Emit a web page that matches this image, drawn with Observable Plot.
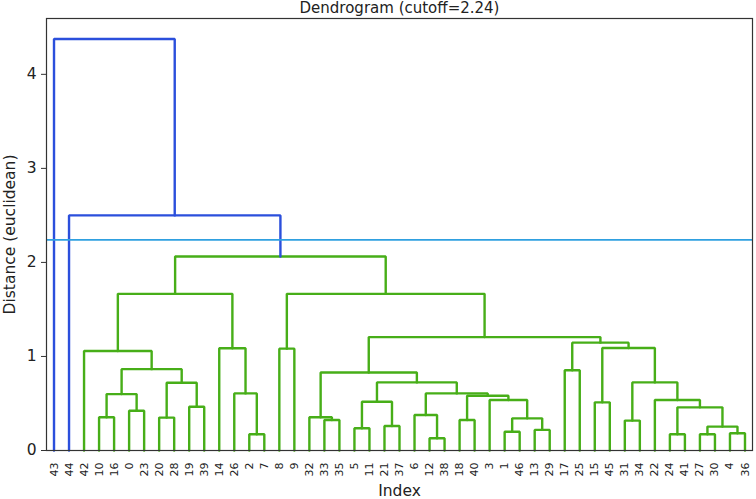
<!DOCTYPE html>
<html><head><meta charset="utf-8">
<script src="https://cdn.jsdelivr.net/npm/d3@7"></script>
<script src="https://cdn.jsdelivr.net/npm/@observablehq/plot@0.6"></script>
<style>body{margin:0;background:#fff}</style>
</head><body><div id="chart"></div>
<script>
const title = "Dendrogram (cutoff=2.24)";
const xLabel = "Index";
const yLabel = "Distance (euclidean)";
const cutoff = 2.24;
const yTicks = [0, 1, 2, 3, 4];
// Leaf order along x (tick labels)
const leafOrder = [43,44,42,10,16,0,23,20,28,19,39,14,26,2,7,8,9,32,33,35,5,11,21,37,6,12,38,18,40,3,1,46,13,29,17,25,15,45,31,34,22,24,41,27,30,4,36];
// Merges: [left, right, distance]; numbers = leaf ids, "cN" = result of merge N
const merges = [
  [10, 16, 0.353],      // c0
  [0, 23, 0.423],       // c1
  ["c0", "c1", 0.600],  // c2
  [20, 28, 0.350],      // c3
  [19, 39, 0.465],      // c4
  ["c3", "c4", 0.720],  // c5
  ["c2", "c5", 0.865],  // c6
  [42, "c6", 1.058],    // c7
  [2, 7, 0.173],        // c8
  [26, "c8", 0.607],    // c9
  [14, "c9", 1.087],    // c10
  ["c7", "c10", 1.666], // c11
  [8, 9, 1.083],        // c12
  [33, 35, 0.325],      // c13
  [32, "c13", 0.353],   // c14
  [5, 11, 0.237],       // c15
  [21, 37, 0.260],      // c16
  ["c15", "c16", 0.519],// c17
  [12, 38, 0.130],      // c18
  [6, "c18", 0.378],    // c19
  [18, 40, 0.325],      // c20
  [1, 46, 0.200],       // c21
  [13, 29, 0.219],      // c22
  ["c21", "c22", 0.342],// c23
  [3, "c23", 0.537],    // c24
  ["c20", "c24", 0.582],// c25
  ["c19", "c25", 0.607],// c26
  ["c17", "c26", 0.724],// c27
  ["c14", "c27", 0.830],// c28
  [17, 25, 0.854],      // c29
  [15, 45, 0.512],      // c30
  [31, 34, 0.318],      // c31
  [24, 41, 0.173],      // c32
  [27, 30, 0.173],      // c33
  [4, 36, 0.183],       // c34
  ["c33", "c34", 0.254],// c35
  ["c32", "c35", 0.459],// c36
  [22, "c36", 0.537],   // c37
  ["c31", "c37", 0.724],// c38
  ["c30", "c38", 1.090],// c39
  ["c29", "c39", 1.147],// c40
  ["c28", "c40", 1.206],// c41
  ["c12", "c41", 1.666],// c42
  ["c11", "c42", 2.063],// c43
  [44, "c43", 2.500],   // c44
  [43, "c44", 4.375]    // c45
];

const BLUE = "#2b4fdc", GREEN = "#47ae18", CUT = "#2fa0e0", INK = "#222";

// Build link polylines from the merge table
const pos = new Map();
leafOrder.forEach((id, i) => pos.set(id, {x: 5 + 10 * i, y: 0}));
const pts = [];
merges.forEach(([a, b, h], k) => {
  const L = pos.get(a), R = pos.get(b);
  const color = h > cutoff ? "above" : "below";
  pts.push({id: k, x: L.x, y: L.y, c: color}, {id: k, x: L.x, y: h, c: color},
           {id: k, x: R.x, y: h, c: color}, {id: k, x: R.x, y: R.y, c: color});
  pos.set("c" + k, {x: (L.x + R.x) / 2, y: h});
});
const maxH = d3.max(merges, d => d[2]);
const leafTicks = leafOrder.map((id, i) => 5 + 10 * i);

const chart = Plot.plot({
  width: 756, height: 499,
  marginLeft: 46, marginRight: 4, marginTop: 18, marginBottom: 49,
  style: {fontFamily: "DejaVu Sans", color: INK, background: "#fff"},
  x: {domain: [0, leafOrder.length * 10], axis: null},
  y: {domain: [0, maxH * 1.05], axis: null},
  marks: [
    Plot.line(pts.filter(d => d.c === "below"), {x: "x", y: "y", z: "id", stroke: GREEN, strokeWidth: 2.4, strokeLinejoin: "miter"}),
    Plot.line(pts.filter(d => d.c === "above"), {x: "x", y: "y", z: "id", stroke: BLUE, strokeWidth: 2.4, strokeLinejoin: "miter"}),
    Plot.ruleY([cutoff], {stroke: CUT, strokeWidth: 1.6}),
    Plot.frame({stroke: "#333", strokeWidth: 1.2}),
    Plot.axisY({ticks: yTicks, tickFormat: d3.format("d"), tickSize: 5, tickPadding: 5, fontSize: 15.5, label: null, stroke: "#333"}),
    Plot.axisX({ticks: leafTicks, tickFormat: (d) => String(leafOrder[Math.round((d - 5) / 10)]), tickRotate: -90, tickSize: 0, tickPadding: 12, fontSize: 11, label: null}),
    Plot.text([xLabel], {frameAnchor: "bottom", dy: 45, fontSize: 15.5, fill: INK}),
    Plot.text([yLabel], {frameAnchor: "left", dx: -36, rotate: -90, textAnchor: "middle", fontSize: 15.5, fill: INK}),
    Plot.text([title], {frameAnchor: "top", lineAnchor: "bottom", dy: -6, fontSize: 15, fill: INK})
  ]
});
document.getElementById("chart").append(chart);
</script>
</body></html>
